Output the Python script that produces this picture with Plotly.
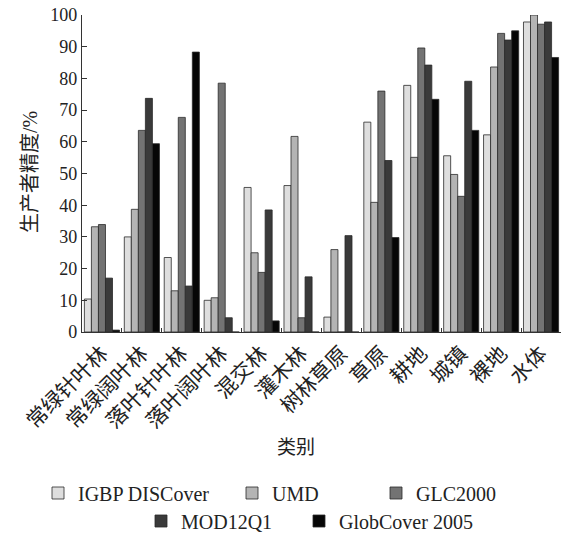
import plotly.graph_objects as go

categories = ["常绿针叶林", "常绿阔叶林", "落叶针叶林", "落叶阔叶林", "混交林", "灌木林",
              "树林草原", "草原", "耕地", "城镇", "裸地", "水体"]
igbp = [10.4, 30.0, 23.5, 10.0, 45.6, 46.2, 4.7, 66.2, 77.8, 55.6, 62.2, 97.8]
umd = [33.2, 38.7, 13.0, 10.8, 25.0, 61.7, 26.0, 40.9, 55.1, 49.7, 83.6, 100.0]
glc = [33.9, 63.6, 67.7, 78.5, 18.8, 4.5, 0.0, 76.0, 89.6, 42.8, 94.2, 97.1]
mod = [17.0, 73.7, 14.5, 4.5, 38.5, 17.4, 30.4, 54.1, 84.2, 79.1, 92.1, 97.8]
glob = [0.6, 59.4, 88.3, 0.0, 3.5, 0.0, 0.0, 29.8, 73.4, 63.6, 95.0, 86.6]
yticks = [0, 10, 20, 30, 40, 50, 60, 70, 80, 90, 100]

series = [
    ("IGBP DISCover", igbp, "#dedede"),
    ("UMD", umd, "#b4b4b4"),
    ("GLC2000", glc, "#737373"),
    ("MOD12Q1", mod, "#3a3a3a"),
    ("GlobCover 2005", glob, "#060606"),
]
legend_ids = ["legend", "legend2", "legend3", "legend4", "legend5"]

font_family = "Liberation Serif, Noto Sans CJK SC, serif"

fig = go.Figure()
for (name, vals, color), lg in zip(series, legend_ids):
    fig.add_trace(go.Bar(
        x=categories, y=vals, name=name, legend=lg, showlegend=True,
        marker=dict(color=color, line=dict(color="#2a2a2a", width=0.8)),
    ))

L, R, T, B = 82, 2, 15, 216
W, H = 563, 548
pw, ph = W - L - R, H - T - B


def px_x(p):
    return (p - L) / pw


def px_y(p):
    return (H - B - p) / ph


legend_pos = {
    "legend": (38, 493),
    "legend2": (232, 493),
    "legend3": (376, 493),
    "legend4": (141, 521),
    "legend5": (299, 521),
}
legend_layout = {}
for lg, (x0, y0) in legend_pos.items():
    legend_layout[lg] = dict(
        x=x0 / W, xanchor="left", y=1 - y0 / H, yanchor="middle",
        xref="container", yref="container",
        orientation="h", font=dict(size=20), bgcolor="rgba(0,0,0,0)",
        itemwidth=30,
    )

fig.update_layout(
    width=W, height=H,
    showlegend=True,
    margin=dict(l=L, r=R, t=T, b=B, autoexpand=False),
    paper_bgcolor="white", plot_bgcolor="white",
    barmode="group", bargap=0.12, bargroupgap=0,
    font=dict(family=font_family, size=18, color="#222"),
    **legend_layout,
    xaxis=dict(
        tickangle=-45, ticks="inside", tickson="boundaries", ticklen=4,
        tickcolor="#333", showline=True, linecolor="#333", linewidth=1.2,
        tickfont=dict(size=21), showgrid=False, automargin=False,
    ),
    yaxis=dict(
        range=[0, 100], tickvals=yticks, ticks="inside", ticklen=5,
        tickcolor="#333", showline=True, linecolor="#333", linewidth=1.2,
        showgrid=False, zeroline=False, tickfont=dict(size=18), automargin=False,
    ),
    annotations=[
        dict(text="类别", x=px_x(296), y=px_y(447), xref="paper", yref="paper",
             xanchor="center", yanchor="middle", showarrow=False, font=dict(size=19)),
        dict(text="生产者精度/%", x=px_x(30), y=px_y(172), xref="paper", yref="paper",
             xanchor="center", yanchor="middle", showarrow=False, textangle=-90,
             font=dict(size=20)),
    ],
)

fig.write_html("out.html", config={"displayModeBar": False},
               post_script="document.body.style.margin='0px';")
